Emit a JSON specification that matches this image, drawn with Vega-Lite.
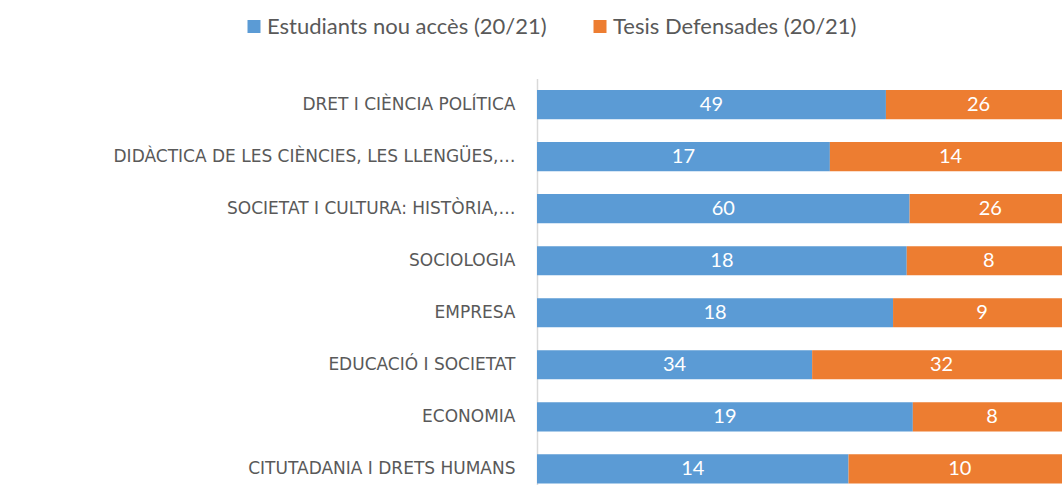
{
  "$schema": "https://vega.github.io/schema/vega-lite/v6.json",
  "width": 525,
  "height": 406.5,
  "autosize": {"type": "none"},
  "padding": {"left": 537, "top": 78.5, "right": 0, "bottom": 0},
  "background": "white",
  "config": {"view": {"stroke": null}, "font": "Lato"},
  "data": {
    "values": [
      {"programa": "DRET I CIÈNCIA POLÍTICA", "serie": "Estudiants nou accès (20/21)", "ordre": 0, "valor": 49},
      {"programa": "DRET I CIÈNCIA POLÍTICA", "serie": "Tesis Defensades (20/21)", "ordre": 1, "valor": 26},
      {"programa": "DIDÀCTICA DE LES CIÈNCIES, LES LLENGÜES,…", "serie": "Estudiants nou accès (20/21)", "ordre": 0, "valor": 17},
      {"programa": "DIDÀCTICA DE LES CIÈNCIES, LES LLENGÜES,…", "serie": "Tesis Defensades (20/21)", "ordre": 1, "valor": 14},
      {"programa": "SOCIETAT I CULTURA: HISTÒRIA,…", "serie": "Estudiants nou accès (20/21)", "ordre": 0, "valor": 60},
      {"programa": "SOCIETAT I CULTURA: HISTÒRIA,…", "serie": "Tesis Defensades (20/21)", "ordre": 1, "valor": 26},
      {"programa": "SOCIOLOGIA", "serie": "Estudiants nou accès (20/21)", "ordre": 0, "valor": 18},
      {"programa": "SOCIOLOGIA", "serie": "Tesis Defensades (20/21)", "ordre": 1, "valor": 8},
      {"programa": "EMPRESA", "serie": "Estudiants nou accès (20/21)", "ordre": 0, "valor": 18},
      {"programa": "EMPRESA", "serie": "Tesis Defensades (20/21)", "ordre": 1, "valor": 9},
      {"programa": "EDUCACIÓ I SOCIETAT", "serie": "Estudiants nou accès (20/21)", "ordre": 0, "valor": 34},
      {"programa": "EDUCACIÓ I SOCIETAT", "serie": "Tesis Defensades (20/21)", "ordre": 1, "valor": 32},
      {"programa": "ECONOMIA", "serie": "Estudiants nou accès (20/21)", "ordre": 0, "valor": 19},
      {"programa": "ECONOMIA", "serie": "Tesis Defensades (20/21)", "ordre": 1, "valor": 8},
      {"programa": "CITUTADANIA I DRETS HUMANS", "serie": "Estudiants nou accès (20/21)", "ordre": 0, "valor": 14},
      {"programa": "CITUTADANIA I DRETS HUMANS", "serie": "Tesis Defensades (20/21)", "ordre": 1, "valor": 10}
    ]
  },
  "transform": [
    {
      "stack": "valor",
      "groupby": ["programa"],
      "offset": "normalize",
      "sort": [{"field": "ordre", "order": "ascending"}],
      "as": ["inici", "final"]
    }
  ],
  "encoding": {
    "y": {
      "field": "programa",
      "type": "nominal",
      "sort": [
        "DRET I CIÈNCIA POLÍTICA",
        "DIDÀCTICA DE LES CIÈNCIES, LES LLENGÜES,…",
        "SOCIETAT I CULTURA: HISTÒRIA,…",
        "SOCIOLOGIA",
        "EMPRESA",
        "EDUCACIÓ I SOCIETAT",
        "ECONOMIA",
        "CITUTADANIA I DRETS HUMANS"
      ],
      "scale": {"paddingInner": 0.44, "paddingOuter": 0.1256, "align": 0.88},
      "axis": {
        "title": null,
        "ticks": false,
        "grid": false,
        "domainColor": "#d9d9d9",
        "domainWidth": 1.5,
        "labelFont": "DejaVu Sans",
        "labelFontSize": 17,
        "labelColor": "#595959",
        "labelPadding": 22,
        "labelLimit": 700
      }
    }
  },
  "layer": [
    {
      "mark": {"type": "bar"},
      "encoding": {
        "x": {
          "field": "inici",
          "type": "quantitative",
          "scale": {"domain": [0, 0.983], "nice": false, "zero": true},
          "axis": null
        },
        "x2": {"field": "final"},
        "color": {
          "field": "serie",
          "type": "nominal",
          "scale": {"domain": ["Estudiants nou accès (20/21)", "Tesis Defensades (20/21)"], "range": ["#5B9BD5", "#ED7D31"]},
          "legend": {
            "orient": "none",
            "legendX": -294,
            "legendY": -63,
            "direction": "horizontal",
            "title": null,
            "symbolType": "square",
            "symbolSize": 169,
            "symbolStrokeWidth": 0,
            "labelFont": "Lato",
            "labelFontSize": 22,
            "labelColor": "#595959",
            "labelOffset": 2,
            "columnPadding": 42,
            "labelLimit": 400
          }
        }
      }
    },
    {
      "transform": [
        {"fold": ["inici", "final"], "as": ["extrem", "posicio"]},
        {"aggregate": [{"op": "mean", "field": "posicio", "as": "mig"}], "groupby": ["programa", "serie", "valor"]}
      ],
      "mark": {"type": "text", "color": "white", "fontSize": 20, "font": "Lato"},
      "encoding": {
        "x": {"field": "mig", "type": "quantitative"},
        "text": {"field": "valor", "type": "quantitative"}
      }
    }
  ]
}
